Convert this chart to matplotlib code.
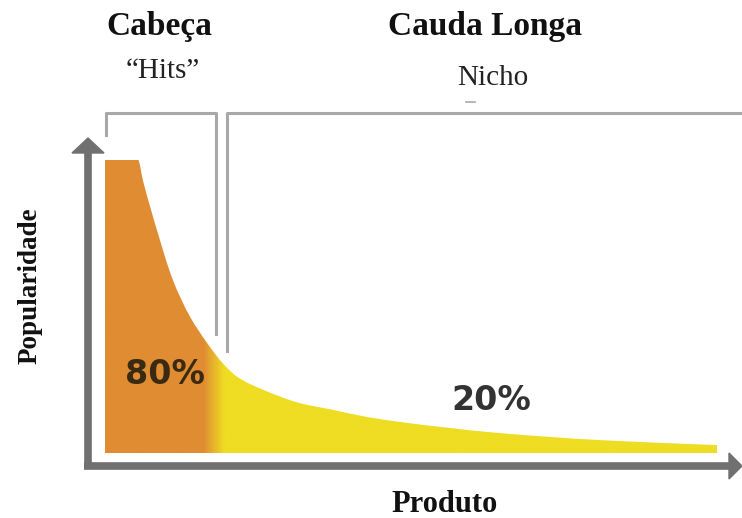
import matplotlib.pyplot as plt
import matplotlib.transforms as mtransforms
import numpy as np
from matplotlib.colors import LinearSegmentedColormap
from matplotlib.patches import Polygon, PathPatch
from matplotlib.path import Path

# long tail curve: product rank (0-100) vs popularity (0-100)
rank = [0, 5.4, 6.2, 8.5, 11.1, 13.9, 16.7, 19.3, 21.6, 26.5, 31.9, 37.3,
        42.8, 48.2, 64.5, 80.9, 100]
popularity = [100, 100, 93, 76, 59, 46.5, 37.5, 30.5, 26, 21, 17, 14.7,
              12.3, 10.6, 6.8, 4.4, 2.7]
head_share = "80%"
tail_share = "20%"
head_end = 17.5  # rank where the head turns into the tail


def curve_path(x, y):
    """Smooth path through the points (monotone cubic Bezier pieces),
    closed along the baseline."""
    x, y = np.asarray(x, float), np.asarray(y, float)
    h = np.diff(x)
    d = np.diff(y) / h
    m = np.zeros_like(x)
    m[0], m[-1] = d[0], d[-1]
    for i in range(1, len(x) - 1):
        if d[i - 1] * d[i] > 0:
            w1, w2 = 2 * h[i] + h[i - 1], h[i] + 2 * h[i - 1]
            m[i] = (w1 + w2) / (w1 / d[i - 1] + w2 / d[i])
    verts = [(x[0], 0), (x[0], y[0])]
    codes = [Path.MOVETO, Path.LINETO]
    for i in range(len(x) - 1):
        verts += [(x[i] + h[i] / 3, y[i] + m[i] * h[i] / 3),
                  (x[i + 1] - h[i] / 3, y[i + 1] - m[i + 1] * h[i] / 3),
                  (x[i + 1], y[i + 1])]
        codes += [Path.CURVE4] * 3
    verts += [(x[-1], 0), (x[0], 0)]
    codes += [Path.LINETO, Path.CLOSEPOLY]
    return Path(verts, codes)


W, H = 742, 518
fig = plt.figure(figsize=(W / 100, H / 100), dpi=100)
ax = fig.add_axes([0, 0, 1, 1])
ax.axis("off")

# plot area: rank 0 at x=105 px, 100 at x=717 px; popularity 0 at y=453 px, 100 at y=160 px
sx, sy = (717 - 105) / 100, (453 - 160) / 100
ax.set_xlim(-105 / sx, (W - 105) / sx)
ax.set_ylim((453 - H) / sy, 453 / sy)

# pixel transform for the decorations (origin top-left)
pix = mtransforms.Affine2D().scale(1 / W, -1 / H).translate(0, 1) + fig.transFigure

# gradient fill orange -> yellow, clipped to the area under the curve
cmap = LinearSegmentedColormap.from_list(
    "ht", [(0, "#E08C33"), ((head_end - 1.5) / 100, "#E08C33"),
           ((head_end + 1.8) / 100, "#EEDD22"), (1, "#EEDD22")])
grad = np.linspace(0, 1, 1000).reshape(1, -1)
img = ax.imshow(grad, cmap=cmap, extent=[0, 100, 0, 100], aspect="auto",
                interpolation="bilinear", zorder=1)
clip = PathPatch(curve_path(rank, popularity), facecolor="none",
                 edgecolor="none")
ax.add_patch(clip)
img.set_clip_path(clip)

# axes with arrow heads
axis_col = "#707070"
ax.plot([88, 88], [466, 150], color=axis_col, lw=5.5, transform=pix,
        solid_capstyle="butt", zorder=3)
ax.plot([84, 731], [466, 466], color=axis_col, lw=5.5, transform=pix,
        solid_capstyle="butt", zorder=3)
ax.add_patch(Polygon([(72, 153), (104, 153), (88, 138)], closed=True,
                     color=axis_col, transform=pix, zorder=3))
ax.add_patch(Polygon([(729, 453), (729, 479), (742, 466)], closed=True,
                     color=axis_col, transform=pix, zorder=3))

# brackets for head and tail
br_col = "#A8A8A8"
ax.plot([106, 106, 216, 216], [135, 113, 113, 334], color=br_col, lw=2.2,
        transform=pix, zorder=2)
ax.plot([227, 227, 742], [351, 113, 113], color=br_col, lw=2.2,
        transform=pix, zorder=2)
ax.plot([466, 475], [102, 102], color=br_col, lw=1.2, transform=pix)

serif = "Liberation Serif"
ax.text(159, 27, "Cabeça", transform=pix, ha="center", va="center",
        fontsize=24, fontweight="bold", family=serif, color="#111111")
ax.text(163, 71, "\u201cHits\u201d", transform=pix, ha="center", va="center",
        fontsize=21, family=serif, color="#222222")
ax.text(485, 27, "Cauda Longa", transform=pix, ha="center", va="center",
        fontsize=24, fontweight="bold", family=serif, color="#111111")
ax.text(493, 78, "Nicho", transform=pix, ha="center", va="center",
        fontsize=21, family=serif, color="#222222")
ax.text(30, 286, "Popularidade", transform=pix, ha="center", va="center",
        rotation=90, fontsize=19.5, fontweight="bold", family=serif,
        color="#111111")
ax.text(445, 504, "Produto", transform=pix, ha="center", va="center",
        fontsize=22, fontweight="bold", family=serif, color="#111111")

# share labels
ax.text(165, 375, head_share, transform=pix, ha="center", va="center",
        fontsize=24, fontweight="bold", family="DejaVu Sans", color="#3A2A12")
ax.text(491, 400, tail_share, transform=pix, ha="center", va="center",
        fontsize=24, fontweight="bold", family="DejaVu Sans", color="#333333")

fig.savefig("out.png", dpi=100)
